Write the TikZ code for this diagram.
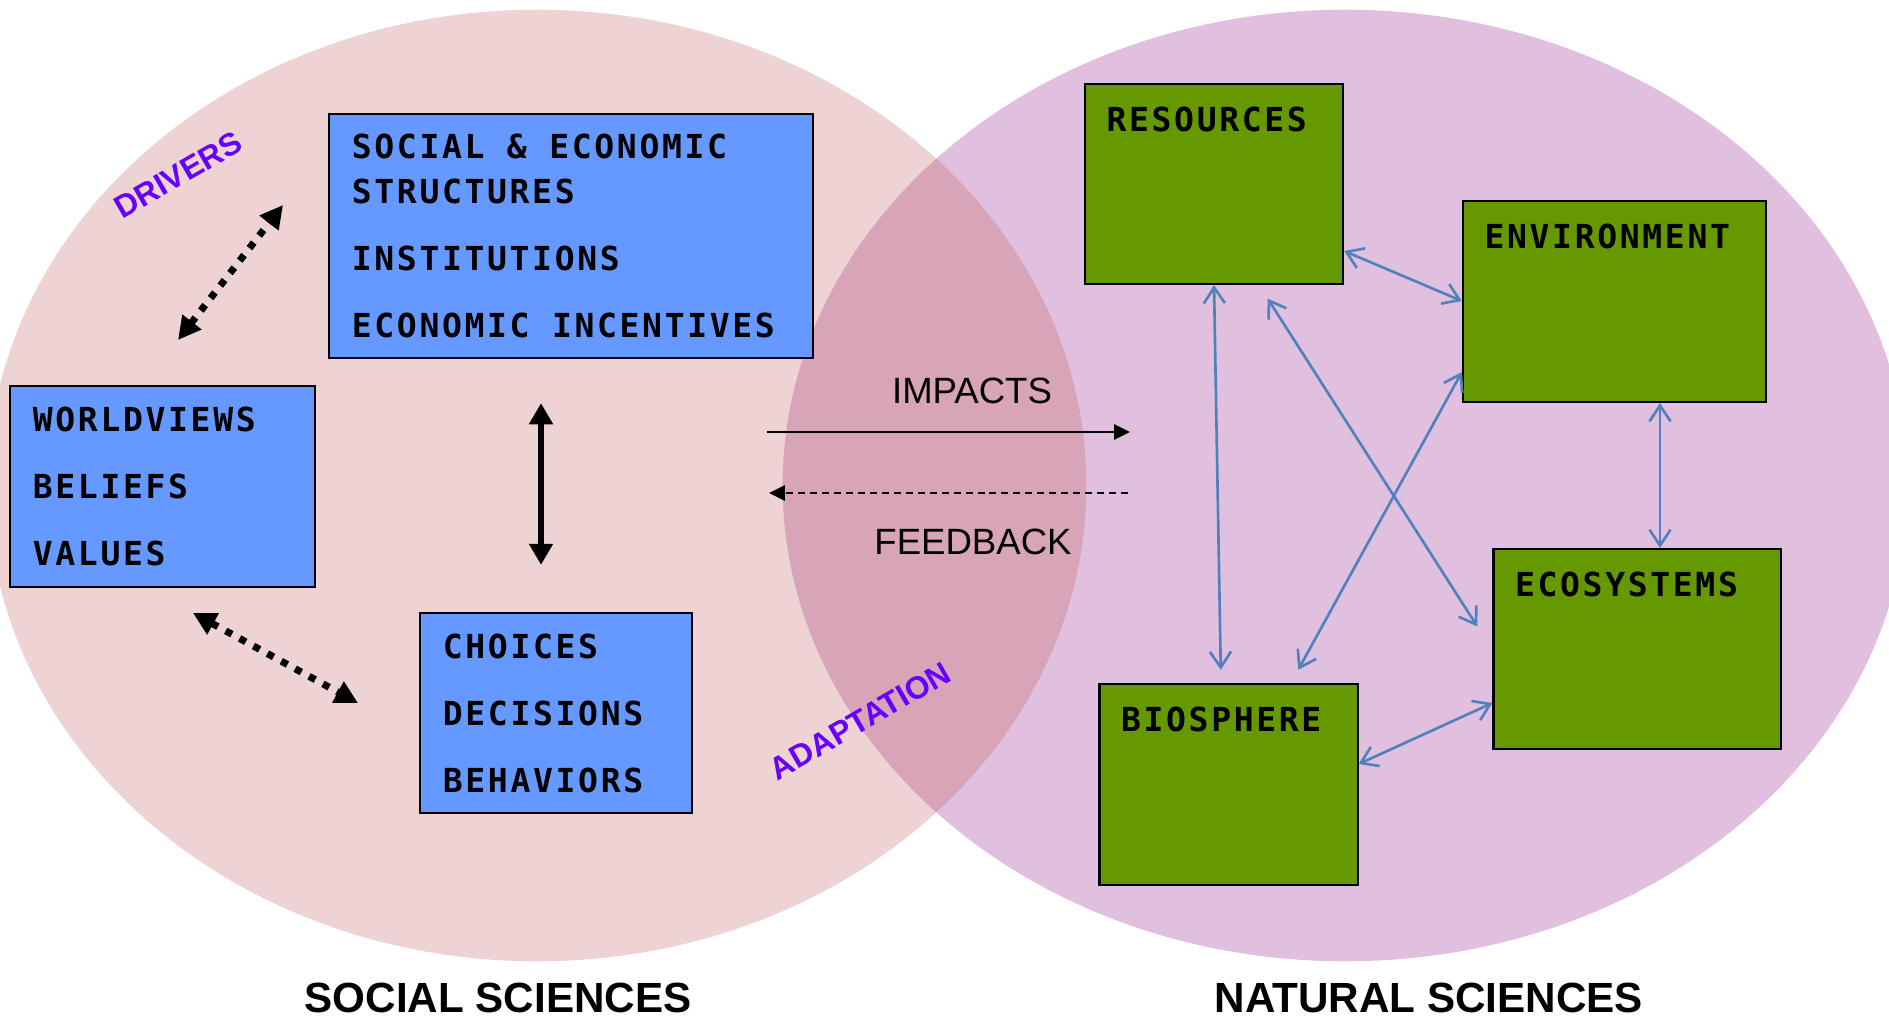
\documentclass[tikz,border=0pt]{standalone}
\usepackage{fontspec}
\setmainfont{Liberation Sans}
\newfontfamily\boxfont{DejaVu Sans Mono}[LetterSpace=8]
\usepackage{xcolor}
\usepackage{tikz}
\usetikzlibrary{arrows.meta}

\definecolor{socialpink}{RGB}{237,211,212}
\definecolor{naturalmauve}{RGB}{224,191,223}
\definecolor{overlaprose}{RGB}{216,164,184}
\definecolor{boxblue}{RGB}{102,153,255}
\definecolor{boxgreen}{RGB}{102,153,0}
\definecolor{tagviolet}{RGB}{102,0,255}
\definecolor{linkblue}{RGB}{79,129,189}

\begin{document}
\begin{tikzpicture}[x=0.01cm, y=-0.01cm,
		    bluebox/.style={draw, line width=0.6pt, fill=boxblue, align=left, inner xsep=2.3mm, inner ysep=0pt,
		        font=\boxfont\bfseries\fontsize{9.4}{19.06}\selectfont,
		        execute at begin node={\spaceskip=0.68em\relax}},
		    greenbox/.style={draw, line width=0.6pt, fill=boxgreen, minimum width=2.58cm, minimum height=2cm},
		    boxtag/.style={anchor=north west, inner sep=0pt, xshift=2.2mm, yshift=-2.3mm,
		        font=\boxfont\bfseries\fontsize{9.4}{11}\selectfont},
		    flowtag/.style={anchor=base, inner sep=0pt, font=\fontsize{10.4}{12}\selectfont},
		    sidetag/.style={inner sep=0pt, text=tagviolet, font=\bfseries\fontsize{9}{10}\selectfont},
		    sciencetag/.style={anchor=base, inner sep=0pt, font=\bfseries\fontsize{12}{14}\selectfont},
		    link/.style={draw=linkblue, line width=0.75pt, {Straight Barb[length=4.5pt,width=6pt]}-{Straight Barb[length=4.5pt,width=6pt]}},
		    dotlink/.style={line width=2pt, dash pattern=on 2pt off 2.5pt,
		        {Triangle[length=6.5pt,width=6.5pt]}-{Triangle[length=6.5pt,width=6.5pt]}},
		    thicklink/.style={line width=1.5pt, {Triangle[length=6pt,width=6.5pt]}-{Triangle[length=6pt,width=6.5pt]}}
		]
		\useasboundingbox (0,0) rectangle (1889,1018);

		% the two fields and their overlap
		\fill[socialpink] (537,485.5) ellipse [x radius=5.49cm, y radius=4.755cm];
		\fill[naturalmauve] (1345,485.5) ellipse [x radius=5.62cm, y radius=4.755cm];
		\begin{scope}
		    \clip (537,485.5) ellipse [x radius=5.49cm, y radius=4.755cm];
		    \fill[overlaprose] (1345,485.5) ellipse [x radius=5.62cm, y radius=4.755cm];
		\end{scope}

		% social side
		\node[bluebox, text width=4.38cm, minimum height=2.44cm] (soc) at (571,236)
		    {SOCIAL \& ECONOMIC\\[-6.3pt]STRUCTURES\\INSTITUTIONS\\ECONOMIC INCENTIVES};
		\node[bluebox, text width=2.59cm, minimum height=2.01cm] (world) at (162.5,486.5)
		    {WORLDVIEWS\\BELIEFS\\VALUES};
		\node[bluebox, text width=2.26cm, minimum height=2.00cm] (choice) at (556,713)
		    {CHOICES\\DECISIONS\\BEHAVIORS};

		% natural side
		\node[greenbox, label={[boxtag]north west:RESOURCES}] (res) at (1214,184) {};
		\node[greenbox, minimum width=3.03cm, minimum height=2.01cm, label={[boxtag]north west:ENVIRONMENT}] (env) at (1614.5,301.5) {};
		\node[greenbox, minimum width=2.87cm, label={[boxtag]north west:ECOSYSTEMS}] (eco) at (1637,649) {};
		\node[greenbox, minimum height=2.01cm, label={[boxtag]north west:BIOSPHERE}] (bio) at (1228.5,784.5) {};

		\coordinate (drvLo) at (178,340);
		\coordinate (drvHi) at (283,205);
		\coordinate (valHi) at (193,613);
		\coordinate (valLo) at (358,703);
		\coordinate (impL) at (767,432);
		\coordinate (impR) at (1130,432);
		\coordinate (fbL) at (769,493);
		\coordinate (fbR) at (1128,493);

		\draw[dotlink] (drvLo) -- (drvHi);
		\draw[dotlink] (valHi) -- (valLo);
		\draw[thicklink, shorten <=4.4mm, shorten >=4.7mm] (soc.south -| 541,0) -- (choice.north -| 541,0);

		\draw[line width=0.6pt, -{Triangle[length=4.5pt,width=4.3pt]}] (impL) -- (impR);
		\draw[line width=0.6pt, dash pattern=on 2pt off 1.4pt, -{Triangle[length=4.5pt,width=4.3pt]}] (fbR) -- (fbL);

		\draw[link] (res.east |- 0,251) -- (env.west |- 0,301);
		\draw[link] (env.south -| 1660,0) -- (eco.north -| 1660,0);
		\draw[link, shorten >=1.3mm] (res.south -| 1214,0) -- (bio.north -| 1221,0);
		\draw[link, shorten <=1.6mm, shorten >=2.8mm] (res.south -| 1259,0) -- (eco.west |- 0,650);
		\draw[link, shorten >=1.5mm] (env.west |- 0,372) -- (bio.north -| 1291,0);
		\draw[link] (bio.east |- 0,764) -- (eco.west |- 0,703);

		\node[flowtag] (imp) at (972,403) {IMPACTS};
		\node[flowtag] (fb) at (973,554) {FEEDBACK};
		\node[sidetag, rotate=30] (drv) at (178,175) {DRIVERS};
		\node[sidetag, rotate=30] (adapt) at (860,721) {ADAPTATION};
		\node[sciencetag] (soctitle) at (498,1012) {SOCIAL SCIENCES};
		\node[sciencetag] (nattitle) at (1429,1012) {NATURAL SCIENCES};
		\end{tikzpicture}
\end{document}
